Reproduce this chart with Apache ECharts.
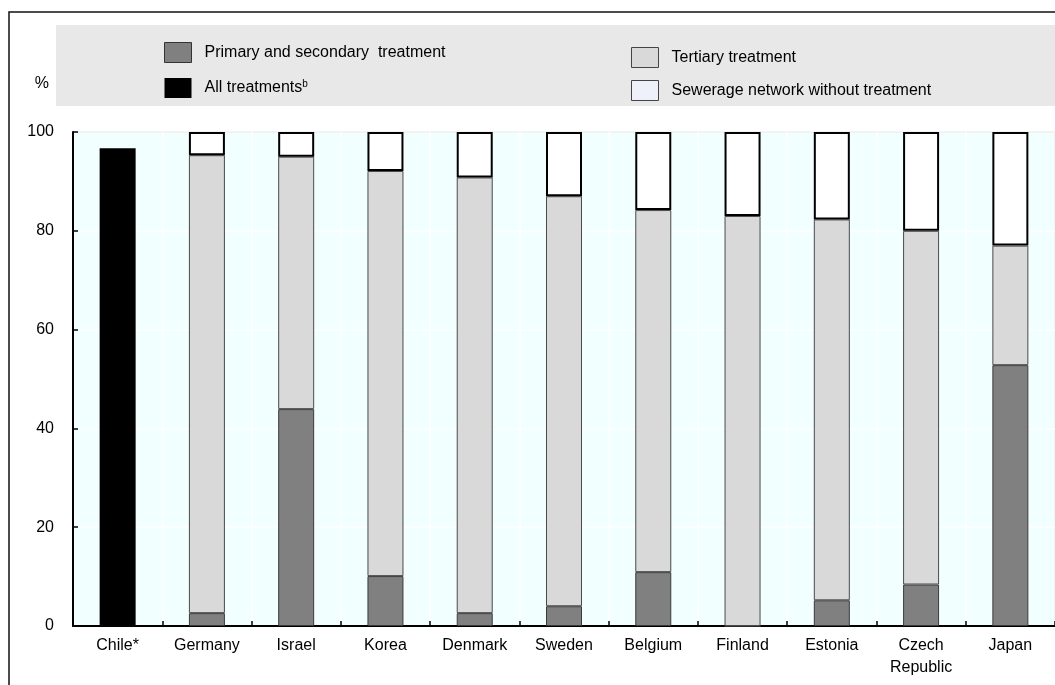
<!DOCTYPE html>
<html>
<head>
<meta charset="utf-8">
<script src="https://cdn.jsdelivr.net/npm/echarts@6/dist/echarts.min.js"></script>
<style>
  html, body { margin: 0; padding: 0; background: #fff; }
  #chart { width: 1055px; height: 685px; }
</style>
</head>
<body>
<div id="chart"></div>
<script>
// Share of population connected to wastewater treatment, by treatment level (%)
const countries = ['Chile*', 'Germany', 'Israel', 'Korea', 'Denmark', 'Sweden',
                   'Belgium', 'Finland', 'Estonia', 'Czech\nRepublic', 'Japan'];
const allTreatments = [96.7, null, null, null, null, null, null, null, null, null, null];
const primarySecondary = [null, 2.6, 43.9, 10.1, 2.6, 4.0, 10.9, 0, 5.2, 8.4, 52.8];
const tertiary = [null, 92.7, 51.1, 82.0, 88.2, 83.0, 73.3, 83.0, 77.1, 71.6, 24.2];
const noTreatment = [null, 4.7, 5.0, 7.9, 9.2, 13.0, 15.8, 17.0, 17.7, 20.0, 23.0];
const yTicks = [0, 20, 40, 60, 80, 100];

const FONT = '"Liberation Sans", Arial, Helvetica, sans-serif';
const chart = echarts.init(document.getElementById('chart'), null, { renderer: 'canvas' });

const legendText = {
  fontFamily: FONT, fontSize: 16, color: '#000', padding: [0, 0, 0, 8],
  rich: {
    sup: { fontFamily: FONT, fontSize: 10, color: '#000', verticalAlign: 'top', padding: [0, 0, 8, 0] }
  }
};

chart.setOption({
  animation: false,
  graphic: [
    { type: 'rect', z: -10, silent: true,
      shape: { x: 9, y: 12, width: 1100, height: 720 },
      style: { fill: '#fff', stroke: '#111', lineWidth: 1.5 } },
    { type: 'rect', z: -9, silent: true,
      shape: { x: 56, y: 25, width: 1010, height: 81 },
      style: { fill: '#e8e8e8' } }
  ],
  legend: [
    {
      orient: 'vertical', left: 159, top: 37,
      itemWidth: 27, itemHeight: 20, itemGap: 15,
      textStyle: legendText,
      formatter: name => name === 'All treatments' ? 'All treatments{sup|b}' : name,
      data: [
        { name: 'Primary and secondary  treatment', icon: 'rect',
          itemStyle: { color: '#808080', borderColor: '#333', borderWidth: 1 } },
        { name: 'All treatments', icon: 'rect',
          itemStyle: { color: '#000', borderColor: '#000', borderWidth: 0 } }
      ]
    },
    {
      orient: 'vertical', left: 626, top: 42,
      itemWidth: 27, itemHeight: 20, itemGap: 12,
      textStyle: legendText,
      data: [
        { name: 'Tertiary treatment', icon: 'rect',
          itemStyle: { color: '#d9d9d9', borderColor: '#444', borderWidth: 1 } },
        { name: 'Sewerage network without treatment', icon: 'rect',
          itemStyle: { color: '#eef1fa', borderColor: '#444', borderWidth: 1 } }
      ]
    }
  ],
  grid: {
    left: 73, right: 0, top: 132, bottom: 59,
    show: true, backgroundColor: '#f2ffff', borderColor: '#9a9a9a', borderWidth: 1
  },
  xAxis: {
    type: 'category',
    data: countries,
    axisLine: { lineStyle: { color: '#000', width: 2 } },
    axisTick: { show: true, inside: true, length: 5, lineStyle: { color: '#000', width: 1.5 } },
    axisLabel: { fontFamily: FONT, fontSize: 16, color: '#000', margin: 9, lineHeight: 22, interval: 0 },
    splitLine: { show: true, lineStyle: { color: '#ffffff', width: 1.5 } }
  },
  yAxis: {
    type: 'value',
    min: 0, max: 100, interval: 20,
    name: '%',
    nameLocation: 'end',
    nameGap: 40,
    nameTextStyle: { fontFamily: FONT, fontSize: 16, color: '#000', align: 'right', padding: [0, 24, 0, 0] },
    axisLine: { show: true, lineStyle: { color: '#000', width: 2 } },
    axisTick: { show: true, inside: true, length: 5, lineStyle: { color: '#000', width: 1.5 } },
    axisLabel: {
      fontFamily: FONT, fontSize: 16, color: '#000', margin: 19,
      formatter: v => yTicks.includes(v) ? String(v) : ''
    },
    splitLine: { show: true, lineStyle: { color: '#ffffff', width: 1.5 } }
  },
  series: [
    {
      name: 'All treatments', type: 'bar', stack: 'total', barWidth: 36,
      itemStyle: { color: '#000' },
      data: allTreatments
    },
    {
      name: 'Primary and secondary  treatment', type: 'bar', stack: 'total', barWidth: 36,
      itemStyle: { color: '#808080', borderColor: '#3a3a3a', borderWidth: 1 },
      data: primarySecondary
    },
    {
      name: 'Tertiary treatment', type: 'bar', stack: 'total', barWidth: 36,
      itemStyle: { color: '#d9d9d9', borderColor: '#4a4a4a', borderWidth: 1 },
      data: tertiary
    },
    {
      name: 'Sewerage network without treatment', type: 'bar', stack: 'total', barWidth: 36,
      itemStyle: { color: '#ffffff', borderColor: '#000', borderWidth: 2 },
      data: noTreatment
    }
  ]
});
</script>
</body>
</html>
